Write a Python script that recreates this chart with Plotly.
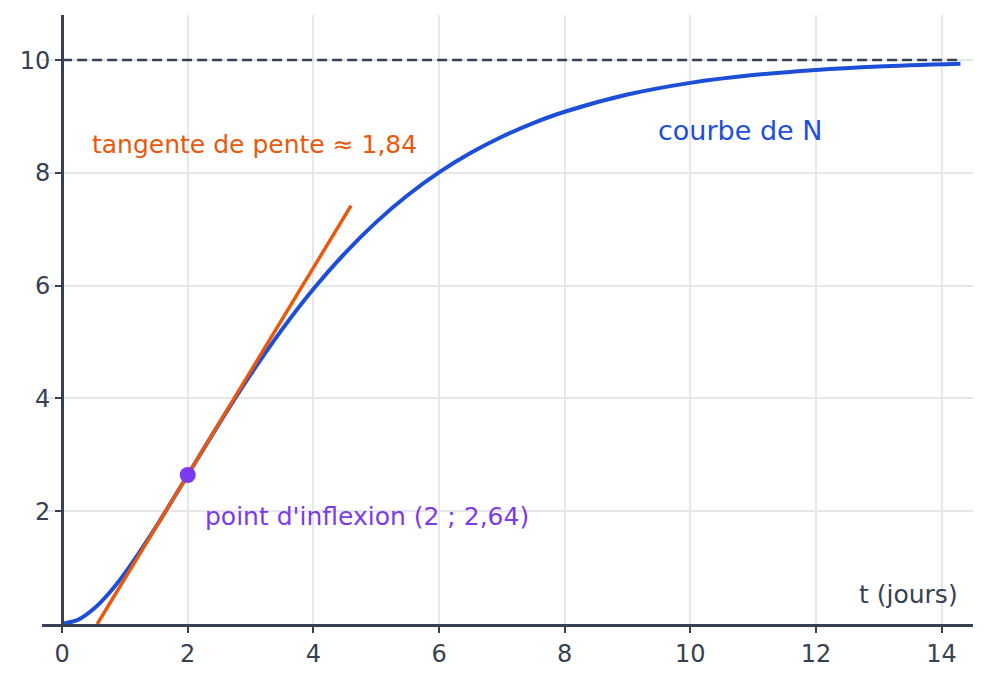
import plotly.graph_objects as go

# courbe N(t)
t_vals = [0, 0.25, 0.5, 0.75, 1, 1.5, 2, 2.5, 3, 3.5, 4, 4.5, 5, 5.5, 6, 6.5,
          7, 7.5, 8, 9, 10, 11, 12, 13, 14.3]
n_vals = [0, 0.072, 0.265, 0.550, 0.902, 1.733, 2.642, 3.554, 4.422, 5.221,
          5.940, 6.574, 7.127, 7.603, 8.009, 8.352, 8.641, 8.883, 9.084,
          9.389, 9.596, 9.734, 9.826, 9.887, 9.936]

# tangente au point d'inflexion
tan_t = [0.56, 4.6]
tan_n = [0.0, 7.42]

# asymptote
asym_t = [0, 14.3]
asym_n = [10, 10]

infl_t = [2]
infl_n = [2.642]

x_ticks = [0, 2, 4, 6, 8, 10, 12, 14]
y_ticks = [2, 4, 6, 8, 10]

x_range = [-0.32, 14.5]
y_range = [0, 10.8]

BLUE = "#1d4ed8"
ORANGE = "#ea580c"
PURPLE = "#7c3aed"
DARK = "#374151"
GRID = "#e5e7eb"
FONT = "DejaVu Sans"

fig = go.Figure()

fig.add_trace(go.Scatter(
    x=asym_t, y=asym_n, mode="lines",
    line=dict(color=DARK, width=2.5, dash="10px,5px"),
    hoverinfo="skip"
))

fig.add_trace(go.Scatter(
    x=t_vals, y=n_vals, mode="lines",
    line=dict(color=BLUE, width=4, shape="spline", smoothing=0.8),
    name="N"
))

fig.add_trace(go.Scatter(
    x=tan_t, y=tan_n, mode="lines",
    line=dict(color=ORANGE, width=3.5),
    name="tangente"
))

fig.add_trace(go.Scatter(
    x=infl_t, y=infl_n, mode="markers",
    marker=dict(color=PURPLE, size=16),
    name="inflexion"
))

annots = [
    dict(x=0.45, y=8.5, text="tangente de pente ≈ 1,84", color=ORANGE, anchor="left", size=25),
    dict(x=9.45, y=8.75, text="courbe de N", color=BLUE, anchor="left", size=27),
    dict(x=2.25, y=1.9, text="point d'inflexion (2 ; 2,64)", color=PURPLE, anchor="left", size=25),
    dict(x=14.3, y=0.53, text="t (jours)", color=DARK, anchor="right", size=25),
]
for a in annots:
    fig.add_annotation(
        x=a["x"], y=a["y"], text=a["text"], showarrow=False,
        xanchor=a["anchor"], yanchor="middle",
        font=dict(family=FONT, size=a["size"], color=a["color"])
    )

fig.update_layout(
    margin=dict(l=34, r=6, t=7, b=43),
    plot_bgcolor="white",
    paper_bgcolor="white",
    showlegend=False,
    font=dict(family=FONT, color=DARK),
    xaxis=dict(
        range=x_range, tickvals=x_ticks, ticktext=[str(v) for v in x_ticks],
        showgrid=True, gridcolor=GRID, gridwidth=1.5,
        zeroline=False, showline=True, linecolor=DARK, linewidth=3,
        ticks="outside", ticklen=6, tickwidth=2, tickcolor=DARK,
        tickfont=dict(family=FONT, size=24, color=DARK)
    ),
    yaxis=dict(
        range=y_range, tickvals=y_ticks, ticktext=[str(v) for v in y_ticks],
        anchor="free", position=(0 - x_range[0]) / (x_range[1] - x_range[0]),
        showgrid=True, gridcolor=GRID, gridwidth=1.5,
        zeroline=False, showline=True, linecolor=DARK, linewidth=3,
        ticks="outside", ticklen=6, tickwidth=2, tickcolor=DARK,
        tickfont=dict(family=FONT, size=24, color=DARK)
    ),
)

fig.write_html("out.html")
